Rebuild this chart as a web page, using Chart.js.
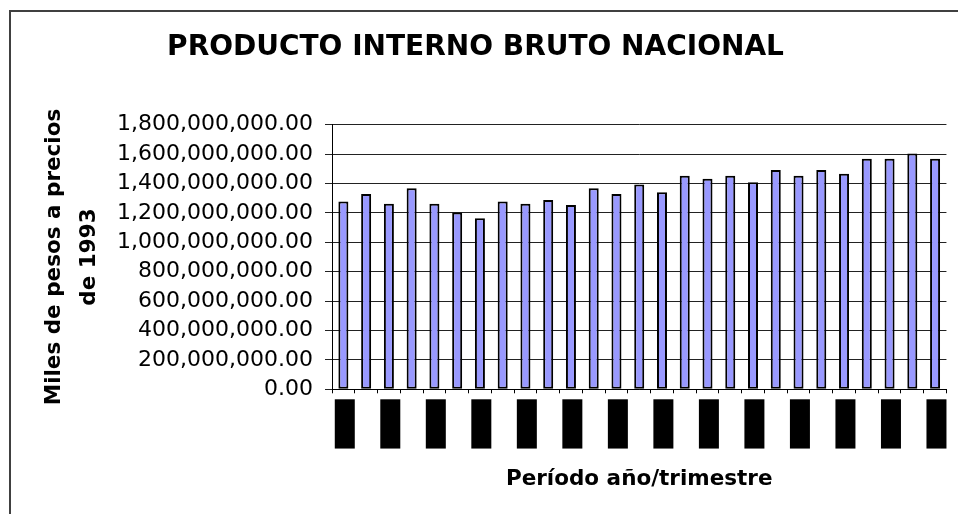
<!DOCTYPE html>
<html>
<head>
<meta charset="utf-8">
<script src="https://cdn.jsdelivr.net/npm/chart.js@4"></script>
<style>
  html, body { margin: 0; padding: 0; background: #fff; overflow: hidden; }
  /* outer chart frame: only the left and top edges fall inside the picture */
  #frame { position: absolute; left: 9px; top: 10px; width: 1200px; height: 800px; border: 2px solid #404040; }
  #chart { position: absolute; left: 0; top: 0; }
</style>
</head>
<body>
<div id="frame"></div>
<canvas id="chart" width="958" height="514"></canvas>
<script>
/* ---- Data: PIB trimestral, miles de pesos a precios de 1993 ---- */
const periods = [
  '1994/1', '1994/2', '1994/3', '1994/4',
  '1995/1', '1995/2', '1995/3', '1995/4',
  '1996/1', '1996/2', '1996/3', '1996/4',
  '1997/1', '1997/2', '1997/3', '1997/4',
  '1998/1', '1998/2', '1998/3', '1998/4',
  '1999/1', '1999/2', '1999/3', '1999/4',
  '2000/1', '2000/2', '2000/3',
];
const pib = [
  1277000000, 1329000000, 1263000000, 1367000000,
  1263000000, 1202000000, 1164000000, 1277000000,
  1263000000, 1288000000, 1254000000, 1367000000,
  1329000000, 1394000000, 1340000000, 1453000000,
  1432000000, 1453000000, 1408000000, 1491000000,
  1453000000, 1491000000, 1466000000, 1568000000,
  1568000000, 1604000000, 1568000000,
];
const yMax = 1800000000;
const yStep = 200000000;

// DejaVu is wider than Arial, close to the stretched text of the original
const FONT = "'DejaVu Sans', sans-serif";

function fmt(v) {
  return Number(v).toLocaleString('en-US', { minimumFractionDigits: 2, maximumFractionDigits: 2 });
}

new Chart(document.getElementById('chart').getContext('2d'), {
  type: 'bar',
  data: {
    labels: periods,
    datasets: [{
      data: pib,
      backgroundColor: '#9999FF',
      borderColor: '#000',
      borderWidth: 2,
      borderSkipped: false,
      barPercentage: 0.44,
      categoryPercentage: 1,
    }],
  },
  options: {
    responsive: false,
    animation: false,
    layout: { padding: { left: 0, right: 7, top: 0, bottom: 0 } },
    plugins: {
      legend: { display: false },
      tooltip: { enabled: false },
      title: {
        display: true,
        text: 'PRODUCTO INTERNO BRUTO NACIONAL',
        color: '#000',
        font: { family: FONT, size: 28, weight: 'bold', lineHeight: 1.2 },
        padding: { top: 30.8, bottom: 60.3 },
      },
    },
    scales: {
      x: {
        grid: { display: true, drawOnChartArea: false, color: '#000', tickLength: 4, offset: true },
        border: { color: '#000', width: 1 },
        ticks: {
          autoSkip: false,
          minRotation: 90,
          maxRotation: 90,
          padding: 6,
          labelOffset: -7,
          color: '#000',
          font: { family: FONT, size: 14, lineHeight: 1.2 },
          // the period labels show up as solid black blocks in the original
          callback(v, i) { return i % 2 === 0 ? this.getLabelForValue(v) : ''; },
          showLabelBackdrop: c => c.index % 2 === 0,
          backdropColor: '#000',
          backdropPadding: { top: 1.6, bottom: 1.6, left: 0, right: 0 },
        },
        title: {
          display: true,
          text: 'Período año/trimestre',
          color: '#000',
          font: { family: FONT, size: 21.5, weight: 'bold', lineHeight: 1.2 },
          padding: { top: 0, bottom: 21.2 },
        },
        afterFit(s) { s.height = 124.7; },
      },
      y: {
        min: 0,
        max: yMax,
        ticks: {
          stepSize: yStep,
          color: '#000',
          padding: 12,
          font: { family: FONT, size: 22 },
          callback: v => fmt(v),
        },
        grid: { color: '#222', tickLength: 7 },
        border: { color: '#000', width: 1 },
        title: {
          display: true,
          text: ['Miles de pesos a precios', 'de 1993'],
          color: '#000',
          font: { family: FONT, size: 21.5, weight: 'bold', lineHeight: 1.63 },
          padding: { top: 37, bottom: 0 },
        },
        afterFit(s) { s.width = 332; },
      },
    },
  },
});
</script>
</body>
</html>
